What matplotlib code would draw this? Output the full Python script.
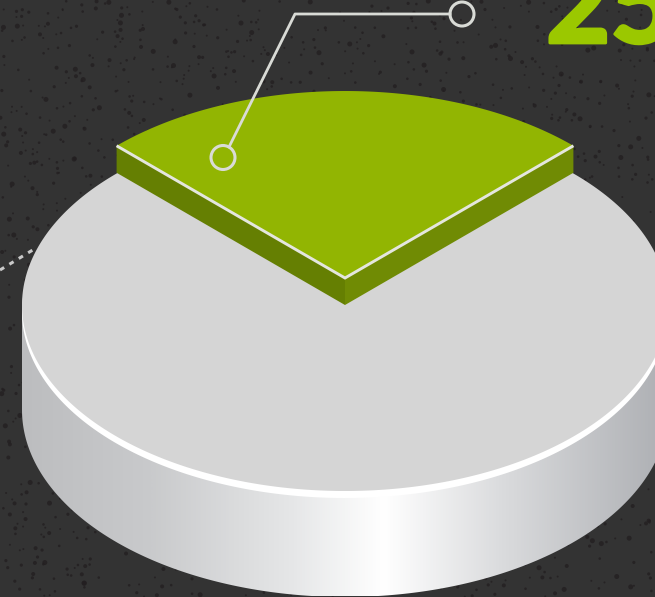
import numpy as np
import matplotlib
matplotlib.use("Agg")
import matplotlib.pyplot as plt
import matplotlib.patheffects as pe
from matplotlib.colors import LinearSegmentedColormap
from matplotlib.patches import Circle, Polygon

# pie values (percent), first one is the lifted green slice
labels = ["25"]
shares = [25, 75]

W, H = 655, 597
BG = "#333333"
cx, cy = 345, 305      # disc centre in pixels
rx, ry = 323, 186
depth = 105            # height of the disc
lift = 27              # height of the green slice


def ell(theta_deg, dy=0, b=ry):
    t = np.radians(theta_deg)
    return np.column_stack([cx + rx * np.cos(t), cy + dy - b * np.sin(t)])


fig = plt.figure(figsize=(W / 100, H / 100), dpi=100, facecolor=BG)
ax = fig.add_axes([0, 0, 1, 1])
ax.set_xlim(0, W)
ax.set_ylim(H, 0)
ax.axis("off")

# speckled background texture
rng = np.random.default_rng(7)
n = 2300
sx = rng.uniform(0, W, n)
sy = rng.uniform(0, H, n)
d = rng.choice([2.0, 2.6, 3.2, 4.0, 5.0], n, p=[.35, .3, .17, .12, .06])
ax.scatter(sx, sy, s=(d * 0.72) ** 2, c="#231f21", linewidths=0, alpha=0.8, zorder=1)

# dotted leader going off to the left, behind the disc
ax.plot([0, 36], [270, 248], color="#c9c9c9", lw=2.2, dashes=(1.6, 2.0), zorder=2)

# side of the disc, with horizontal gradient
side_pts = np.vstack([[[cx - rx, cy]], ell(np.linspace(180, 360, 200), depth, 187), [[cx + rx, cy]]])
side = Polygon(side_pts, closed=True, facecolor="none", edgecolor="none", zorder=3)
ax.add_patch(side)
cmap = LinearSegmentedColormap.from_list(
    "side", [(0, "#bcbdbf"), (0.2, "#c9cacc"), (0.42, "#e6e7e8"), (0.56, "#ffffff"),
             (0.75, "#d9dadc"), (1, "#adafb3")])
grad = np.linspace(0, 1, 512).reshape(1, -1)
im = ax.imshow(grad, cmap=cmap, extent=[cx - rx, cx + rx, cy + depth + ry, cy], aspect="auto", zorder=3)
im.set_clip_path(side)
ax.set_xlim(0, W)
ax.set_ylim(H, 0)

# white rim and the top of the disc
all_t = np.linspace(0, 360, 400)
ax.add_patch(Polygon(ell(all_t, 7), closed=True, fc="white", ec="none", zorder=4))
ax.add_patch(Polygon(ell(all_t), closed=True, fc="#d5d5d5", ec="none", zorder=5))

# green slice, centred on the top of the disc
span = 360 * shares[0] / sum(shares)
t0, t1 = 90 - span / 2, 90 + span / 2
p_left = ell(t1, -lift, 187)[0]
p_right = ell(t0, -lift, 187)[0]
tip = np.array([cx, cy - lift])
ax.add_patch(Polygon([p_left, tip, tip + [0, lift], p_left + [0, lift]],
                     closed=True, fc="#657f02", ec="none", zorder=6))
ax.add_patch(Polygon([tip, p_right, p_right + [0, lift], tip + [0, lift]],
                     closed=True, fc="#708b04", ec="none", zorder=6))
arc = ell(np.linspace(t0, t1, 100), -lift, 187)
ax.add_patch(Polygon(np.vstack([[tip], arc]), closed=True, fc="#92b502", ec="none", zorder=7))
ax.plot([p_left[0], tip[0], p_right[0]], [p_left[1], tip[1], p_right[1]],
        color="#e4e6df", lw=2.1, solid_joinstyle="miter", solid_capstyle="butt", zorder=8)

# callout line with its two rings
line_c = "#d9dbd6"
ax.plot([450, 295, 229], [14, 14, 147], color=line_c, lw=2.0, zorder=9)
for xy in [(462, 14), (223, 157.5)]:
    ax.add_patch(Circle(xy, 12, fc="none", ec=line_c, lw=2.2, zorder=9))

# Lato's heaviest face here is still too thin, so fatten it with a stroke
num = ax.text(546, 43, labels[0], color="#9bc800", fontsize=80, family="Lato", fontweight=900,
              ha="left", va="baseline", zorder=10)
num.set_path_effects([pe.withStroke(linewidth=2, foreground="#9bc800")])

fig.savefig("out.png", dpi=100, facecolor=BG)
